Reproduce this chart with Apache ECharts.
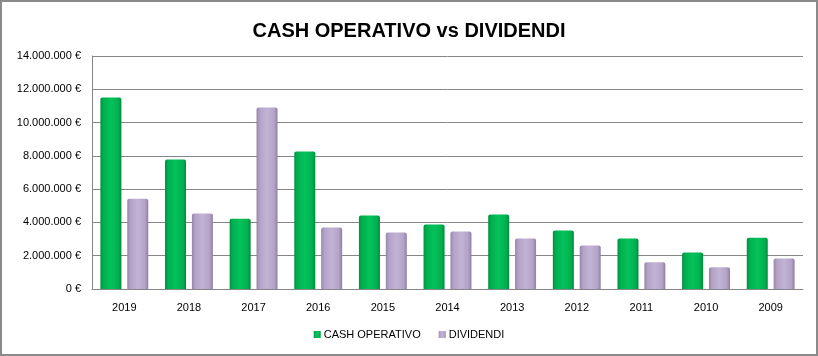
<!DOCTYPE html>
<html>
<head>
<meta charset="utf-8">
<script src="https://cdn.jsdelivr.net/npm/echarts@6/dist/echarts.min.js"></script>
<style>
html,body{margin:0;padding:0;background:#fff;}
#c{width:818px;height:356px;box-sizing:border-box;border:2px solid #8a8a8a;}
</style>
</head>
<body>
<div id="c"></div>
<script>
const categories = ['2019','2018','2017','2016','2015','2014','2013','2012','2011','2010','2009'];
const cashOperativo = [11500000, 7780000, 4220000, 8260000, 4420000, 3880000, 4480000, 3520000, 3040000, 2200000, 3080000];
const dividendi = [5420000, 4540000, 10900000, 3700000, 3400000, 3460000, 3040000, 2620000, 1600000, 1300000, 1840000];
const seriesNames = ['CASH OPERATIVO', 'DIVIDENDI'];
const titleText = 'CASH OPERATIVO vs DIVIDENDI';

function fmt(v){
  return String(Math.round(v)).replace(/\B(?=(\d{3})+(?!\d))/g, '.') + ' €';
}
const chart = echarts.init(document.getElementById('c'), null, {renderer:'canvas'});
const greenGrad = new echarts.graphic.LinearGradient(0,0,1,0,[
  {offset:0,color:'#00923f'},{offset:0.15,color:'#00b050'},{offset:0.5,color:'#05c25a'},{offset:0.85,color:'#00b050'},{offset:1,color:'#008a3b'}]);
const purpleGrad = new echarts.graphic.LinearGradient(0,0,1,0,[
  {offset:0,color:'#9585ab'},{offset:0.15,color:'#b3a2c7'},{offset:0.5,color:'#c2b3d4'},{offset:0.85,color:'#b3a2c7'},{offset:1,color:'#8e7ea3'}]);
chart.setOption({
  animation:false,
  backgroundColor:'#fff',
  title:{text:titleText,left:'center',top:14,
    textStyle:{fontFamily:'Liberation Sans, sans-serif',fontWeight:'bold',fontSize:20,color:'#000'}},
  grid:{left:90,right:13,top:54,bottom:65,containLabel:false},
  legend:{bottom:9,left:'center',itemWidth:7,itemHeight:7,itemGap:18,icon:'rect',
    textStyle:{fontFamily:'Liberation Sans, sans-serif',fontSize:11,color:'#000',padding:[0,0,0,-2]},
    data:seriesNames},
  xAxis:{type:'category',data:categories,
    axisLine:{lineStyle:{color:'#868686',width:1}},axisTick:{show:false},
    axisLabel:{color:'#000',fontFamily:'Liberation Sans, sans-serif',fontSize:11,margin:13}},
  yAxis:{type:'value',min:0,max:14000000,interval:2000000,
    axisLine:{show:true,lineStyle:{color:'#868686',width:1}},axisTick:{show:false},
    splitLine:{lineStyle:{color:'#868686',width:1}},
    axisLabel:{color:'#000',fontFamily:'Liberation Sans, sans-serif',fontSize:11,margin:11,formatter:fmt}},
  series:[
    {name:seriesNames[0],type:'bar',data:cashOperativo,barWidth:21,barGap:'28%',
      itemStyle:{color:greenGrad,borderRadius:[2,2,0,0]}},
    {name:seriesNames[1],type:'bar',data:dividendi,barWidth:21,
      itemStyle:{color:purpleGrad,borderRadius:[2,2,0,0]}}
  ]
});
</script>
</body>
</html>
